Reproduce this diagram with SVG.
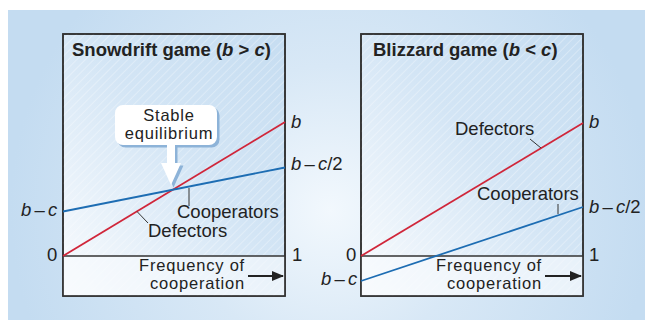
<svg xmlns="http://www.w3.org/2000/svg" width="645" height="320" viewBox="0 0 645 320">
<defs>
<radialGradient id="bg" cx="330" cy="210" r="320" gradientUnits="userSpaceOnUse">
<stop offset="0" stop-color="#f2f8fd"/>
<stop offset="0.45" stop-color="#d8e8f6"/>
<stop offset="1" stop-color="#c4dcf1"/>
</radialGradient>
<linearGradient id="boxg" x1="1" y1="0" x2="0" y2="1">
<stop offset="0" stop-color="#c6ddf1"/>
<stop offset="0.45" stop-color="#d3e5f5"/>
<stop offset="1" stop-color="#fafcfe"/>
</linearGradient>
<pattern id="hatch" width="6" height="6" patternUnits="userSpaceOnUse" patternTransform="rotate(45)">
<line x1="0" y1="0" x2="0" y2="6" stroke="#ffffff" stroke-width="1.2" opacity="0.5"/>
</pattern>
<marker id="ah" viewBox="0 0 12 10" refX="11" refY="5" markerWidth="12" markerHeight="10" orient="auto" markerUnits="userSpaceOnUse">
<path d="M0,0 L12,5 L0,10 z" fill="#222"/>
</marker>
</defs>
<style>
text{font-family:"Liberation Sans",Arial,sans-serif;font-size:18.5px;fill:#222}
.t{font-weight:bold}
.i{font-style:italic}
.s{font-size:16.5px;letter-spacing:0.8px}
.ws{word-spacing:-2px}
.box{fill:url(#boxg);stroke:#333;stroke-width:1.6}
.hat{fill:url(#hatch);stroke:none}
.ax{stroke:#333;stroke-width:1.6}
.red{stroke:#d0263a;stroke-width:1.8;fill:none}
.blu{stroke:#1d6db3;stroke-width:1.8;fill:none}
.ld{stroke:#333;stroke-width:1;fill:none}
.arr{stroke:#222;stroke-width:2.2;marker-end:url(#ah)}
</style>
<rect x="8" y="10" width="637" height="310" fill="url(#bg)"/>

<g id="snowdrift">
<rect class="box" x="63" y="34" width="222" height="262"/>
<rect class="hat" x="63" y="34" width="222" height="262"/>
<rect x="63" y="256" width="222" height="40" fill="#f7fafd" opacity="0.6"/>
<rect x="63" y="34" width="222" height="262" fill="none" stroke="#333" stroke-width="1.6"/>
<line class="ax" x1="63" y1="256" x2="285" y2="256"/>
<text class="t" x="72" y="56">Snowdrift game (<tspan class="i">b</tspan> &gt; <tspan class="i">c</tspan>)</text>
</g>

<g id="blizzard">
<rect class="box" x="361" y="34" width="222" height="262"/>
<rect class="hat" x="361" y="34" width="222" height="262"/>
<rect x="361" y="256" width="222" height="40" fill="#f7fafd" opacity="0.6"/>
<rect x="361" y="34" width="222" height="262" fill="none" stroke="#333" stroke-width="1.6"/>
<line class="ax" x1="361" y1="256" x2="583" y2="256"/>
<text class="t" x="373" y="56">Blizzard game (<tspan class="i">b</tspan> &lt; <tspan class="i">c</tspan>)</text>
</g>

<g id="connectors">
<line class="red" x1="63" y1="256" x2="285" y2="122"/>
<line class="blu" x1="63" y1="211.5" x2="285" y2="167.5"/>
<line class="ld" x1="189" y1="188" x2="189" y2="206"/>
<line class="ld" x1="137" y1="211.5" x2="148" y2="223"/>
<line class="red" x1="361" y1="256" x2="583" y2="123"/>
<line class="blu" x1="361" y1="281" x2="583" y2="207"/>
<line class="ld" x1="530" y1="139" x2="541" y2="148"/>
<line class="ld" x1="558" y1="204" x2="558" y2="214"/>
<line class="arr" x1="248" y1="276" x2="283" y2="276"/>
<line class="arr" x1="545" y1="276" x2="581" y2="276"/>
</g>

<g id="callout">
<path d="M129,105 h80 a8,8 0 0 1 8,8 v24 a8,8 0 0 1 -8,8 h-34 v18 h6 l-10,22 l-10,-22 h6 v-18 h-44 a8,8 0 0 1 -8,-8 v-24 a8,8 0 0 1 8,-8 z" transform="translate(2.5,2.5)" fill="#8db3d8"/>
<path d="M129,105 h80 a8,8 0 0 1 8,8 v24 a8,8 0 0 1 -8,8 h-34 v18 h6 l-10,22 l-10,-22 h6 v-18 h-44 a8,8 0 0 1 -8,-8 v-24 a8,8 0 0 1 8,-8 z" fill="#ffffff"/>
<text class="s" x="169" y="121" text-anchor="middle">Stable</text>
<text class="s" x="169" y="139" text-anchor="middle">equilibrium</text>
</g>

<g id="labels-left">
<text class="i" x="291" y="128">b</text>
<text class="ws" x="291" y="170"><tspan class="i">b</tspan> – <tspan class="i">c</tspan>/2</text>
<text x="292" y="261">1</text>
<text x="47" y="261">0</text>
<text class="ws" x="21" y="216"><tspan class="i">b</tspan> – <tspan class="i">c</tspan></text>
<text x="177" y="218">Cooperators</text>
<text x="148" y="237">Defectors</text>
<text class="s" x="245" y="271" text-anchor="end">Frequency of</text>
<text class="s" x="245" y="289" text-anchor="end">cooperation</text>
</g>

<g id="labels-right">
<text class="i" x="589" y="128">b</text>
<text class="ws" x="589" y="213"><tspan class="i">b</tspan> – <tspan class="i">c</tspan>/2</text>
<text x="589" y="261">1</text>
<text x="346" y="261">0</text>
<text class="ws" x="321" y="285"><tspan class="i">b</tspan> – <tspan class="i">c</tspan></text>
<text x="455" y="135">Defectors</text>
<text x="477" y="200">Cooperators</text>
<text class="s" x="542" y="271" text-anchor="end">Frequency of</text>
<text class="s" x="542" y="289" text-anchor="end">cooperation</text>
</g>
</svg>
